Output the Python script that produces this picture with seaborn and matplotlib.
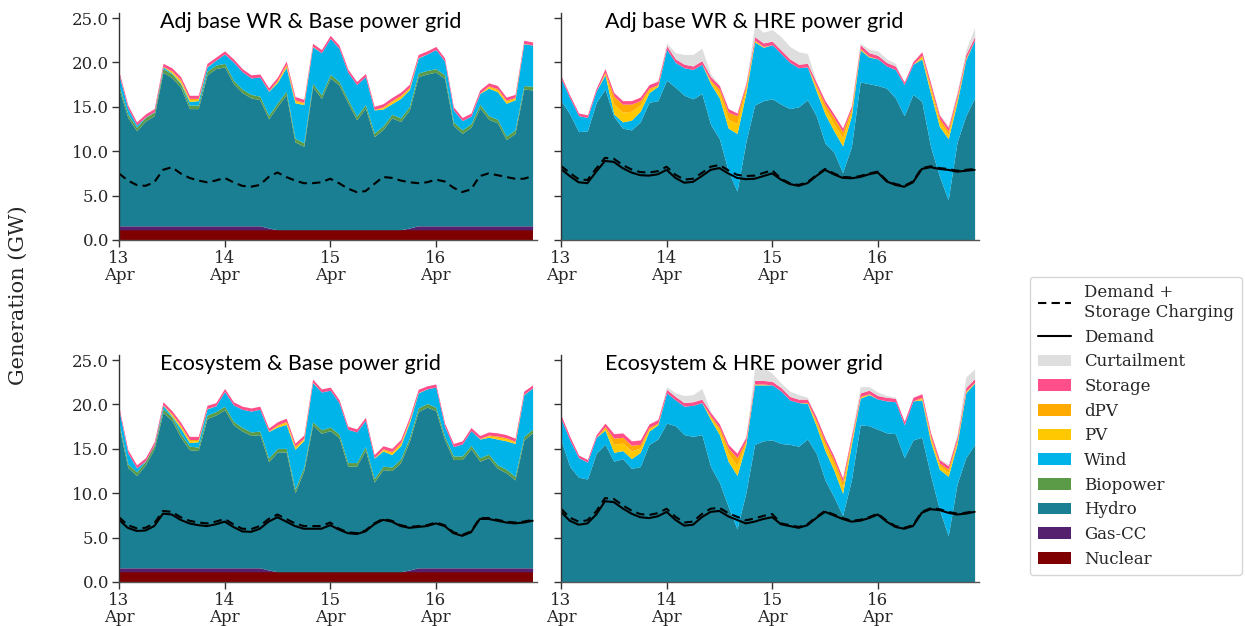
import matplotlib
matplotlib.use("Agg")
import numpy as np
import pandas as pd
import matplotlib.pyplot as plt
import matplotlib.dates as mdates
from matplotlib.lines import Line2D
from matplotlib.patches import Patch
from matplotlib.ticker import MultipleLocator, FormatStrFormatter
import seaborn as sns

# ---------------------------------------------------------------------------
# Generation dispatch (GW), 2-hourly, 13-16 April
# ---------------------------------------------------------------------------
TIMES = pd.date_range("2019-04-13 00:00", periods=48, freq="2h")

STACK_ORDER = ["Nuclear", "Gas-CC", "Hydro", "Biopower", "Wind",
               "PV", "dPV", "Storage", "Curtailment"]
COLORS = {
    "Curtailment": "#dedede",
    "Storage": "#ff4f8b",
    "dPV": "#ffaa00",
    "PV": "#ffc800",
    "Wind": "#00b4ea",
    "Biopower": "#5b9a47",
    "Hydro": "#1a7f92",
    "Gas-CC": "#55216e",
    "Nuclear": "#7f0000",
}

# Base power grid: thermal fleet and small renewables
NUCLEAR_BASE = [1.15, 1.15, 1.15, 1.15, 1.15, 1.15, 1.15, 1.15, 1.15, 1.15, 1.15, 1.15,
                1.15, 1.15, 1.15, 1.15, 1.15, 1.15, 1.15, 1.15, 1.15, 1.15, 1.15, 1.15,
                1.15, 1.15, 1.15, 1.15, 1.15, 1.15, 1.15, 1.15, 1.15, 1.15, 1.15, 1.15,
                1.15, 1.15, 1.15, 1.15, 1.15, 1.15, 1.15, 1.15, 1.15, 1.15, 1.15, 1.15]
GAS_BASE = [0.45, 0.45, 0.45, 0.45, 0.45, 0.45, 0.45, 0.45, 0.45, 0.45, 0.45, 0.45,
            0.45, 0.45, 0.45, 0.45, 0.45, 0.2, 0.0, 0.0, 0.0, 0.0, 0.0, 0.0,
            0.0, 0.0, 0.0, 0.0, 0.0, 0.0, 0.0, 0.0, 0.0, 0.2, 0.45, 0.45,
            0.45, 0.45, 0.45, 0.45, 0.45, 0.45, 0.45, 0.45, 0.45, 0.45, 0.45, 0.45]
BIOPOWER_BASE = [0.4, 0.4, 0.4, 0.4, 0.4, 0.4, 0.4, 0.4, 0.4, 0.4, 0.4, 0.4,
                 0.4, 0.4, 0.4, 0.4, 0.4, 0.4, 0.4, 0.4, 0.4, 0.4, 0.4, 0.4,
                 0.4, 0.4, 0.4, 0.4, 0.4, 0.4, 0.4, 0.4, 0.4, 0.4, 0.4, 0.4,
                 0.4, 0.4, 0.4, 0.4, 0.4, 0.4, 0.4, 0.4, 0.4, 0.4, 0.4, 0.4]
PV_BASE = [0, 0, 0, 0, 0, 0.05, 0.15, 0.2, 0.2, 0.15, 0.05, 0,
           0, 0, 0, 0, 0, 0.05, 0.15, 0.2, 0.2, 0.15, 0.05, 0,
           0, 0, 0, 0, 0, 0.05, 0.15, 0.2, 0.2, 0.15, 0.05, 0,
           0, 0, 0, 0, 0, 0.05, 0.15, 0.2, 0.2, 0.15, 0.05, 0]
DPV_BASE = [0, 0, 0, 0, 0, 0, 0.1, 0.15, 0.15, 0.1, 0, 0,
            0, 0, 0, 0, 0, 0, 0.1, 0.15, 0.15, 0.1, 0, 0,
            0, 0, 0, 0, 0, 0, 0.1, 0.15, 0.15, 0.1, 0, 0,
            0, 0, 0, 0, 0, 0, 0.1, 0.15, 0.15, 0.1, 0, 0]
STORAGE_BASE = [0.35, 0.35, 0.35, 0.35, 0.35, 0.35, 0.35, 0.35, 0.35, 0.35, 0.35, 0.35,
                0.35, 0.35, 0.35, 0.35, 0.35, 0.35, 0.35, 0.35, 0.35, 0.35, 0.35, 0.35,
                0.35, 0.35, 0.35, 0.35, 0.35, 0.35, 0.35, 0.35, 0.35, 0.35, 0.35, 0.35,
                0.35, 0.35, 0.35, 0.35, 0.35, 0.35, 0.35, 0.35, 0.35, 0.35, 0.35, 0.35]

# Adj base WR & Base power grid
ADJ_BASE_HYDRO = [15.4, 12.2, 10.7, 11.8, 12.4, 17.3, 16.7, 15.6, 13.2, 13.2, 17.0, 17.7,
                  17.9, 16.0, 15.0, 14.4, 14.2, 12.3, 13.9, 15.2, 9.9, 9.4, 16.1, 14.8,
                  17.1, 16.3, 14.3, 12.4, 13.7, 10.5, 11.3, 12.6, 12.2, 13.3, 16.8, 17.1,
                  17.3, 16.6, 11.3, 10.4, 11.1, 13.3, 12.0, 11.6, 9.7, 10.4, 15.4, 15.3]
ADJ_BASE_WIND = [1.2, 0.65, 0.25, 0.05, 0.05, 0.2, 0.1, 0.1, 0.4, 0.5, 0.5, 0.55,
                 1.05, 2.05, 1.95, 1.85, 2.15, 2.7, 2.3, 2.7, 4.0, 4.3, 4.1, 4.75,
                 4.05, 3.75, 3.05, 3.55, 3.15, 2.6, 1.9, 1.2, 2.2, 1.9, 1.7, 1.85,
                 2.15, 1.55, 1.35, 1.05, 0.85, 1.2, 3.1, 3.1, 3.7, 3.4, 4.7, 4.65]
ADJ_BASE_DEMAND_CHG = [7.5, 6.7, 6.2, 6.1, 6.5, 7.9, 8.2, 7.5, 7.0, 6.7, 6.5, 6.7,
                       7.0, 6.5, 6.1, 6.0, 6.2, 7.1, 7.6, 7.1, 6.7, 6.4, 6.4, 6.5,
                       6.9, 6.4, 5.8, 5.4, 5.5, 6.3, 7.1, 7.0, 6.7, 6.5, 6.4, 6.5,
                       6.8, 6.6, 5.9, 5.4, 5.7, 7.2, 7.5, 7.3, 7.1, 6.9, 6.9, 7.2]

# Ecosystem & Base power grid
ECO_BASE_HYDRO = [15.9, 11.3, 10.4, 11.6, 13.4, 17.5, 16.6, 14.7, 13.3, 13.2, 16.8, 17.2,
                  17.8, 16.1, 15.4, 14.9, 15.0, 12.2, 13.5, 13.5, 8.9, 11.4, 16.5, 15.6,
                  15.9, 15.1, 11.9, 11.9, 13.7, 10.1, 11.5, 11.4, 12.3, 14.5, 17.6, 18.1,
                  17.7, 14.4, 12.2, 12.2, 13.4, 12.0, 12.4, 11.2, 10.7, 9.9, 14.4, 15.2]
ECO_BASE_WIND = [1.45, 1.25, 0.45, 0.05, 0.05, 0.4, 0.1, 0.6, 0.4, 0.6, 0.7, 0.65,
                 1.65, 1.85, 2.05, 2.35, 2.45, 3.0, 2.4, 2.7, 4.5, 3.0, 4.4, 4.25,
                 4.15, 3.55, 3.75, 3.45, 2.95, 2.3, 1.7, 1.4, 1.5, 1.7, 1.7, 1.65,
                 2.25, 1.15, 1.05, 1.35, 1.65, 2.1, 1.9, 2.9, 3.2, 3.7, 4.7, 4.65]
ECO_BASE_DEMAND = [7.0, 6.1, 5.75, 5.8, 6.3, 7.7, 7.6, 7.0, 6.6, 6.4, 6.3, 6.5,
                   6.8, 6.2, 5.7, 5.65, 6.0, 6.8, 7.3, 6.8, 6.3, 6.0, 6.0, 6.0,
                   6.4, 5.9, 5.5, 5.4, 5.7, 6.5, 7.0, 6.8, 6.3, 6.1, 6.2, 6.3,
                   6.6, 6.3, 5.5, 5.2, 5.6, 7.1, 7.1, 6.9, 6.7, 6.6, 6.7, 6.9]
ECO_BASE_DEMAND_CHG = [7.3, 6.4, 6.05, 6.1, 6.6, 8.0, 7.9, 7.3, 6.9, 6.7, 6.6, 6.8,
                       7.1, 6.5, 6.0, 5.95, 6.3, 7.1, 7.6, 7.1, 6.6, 6.3, 6.3, 6.3,
                       6.7, 6.0, 5.6, 5.5, 5.8, 6.6, 7.1, 6.9, 6.4, 6.2, 6.3, 6.4,
                       6.7, 6.4, 5.6, 5.3, 5.7, 7.2, 7.2, 7.0, 6.8, 6.7, 6.8, 7.0]

# Adj base WR & HRE power grid
ADJ_HRE_HYDRO = [15.7, 14.2, 12.2, 12.3, 15.5, 17.0, 13.9, 12.6, 12.4, 13.3, 15.5, 15.7,
                 18.0, 17.2, 16.3, 15.9, 16.5, 13.0, 11.4, 7.8, 5.5, 11.0, 15.2, 15.7,
                 15.9, 15.3, 14.8, 15.0, 15.8, 14.0, 10.9, 9.9, 7.6, 10.5, 17.8, 17.6,
                 17.4, 17.1, 16.0, 14.0, 16.4, 15.6, 10.5, 7.2, 4.5, 11.0, 14.0, 16.0]
ADJ_HRE_WIND = [2.5, 1.8, 1.8, 1.5, 1.3, 1.6, 0.3, 0.7, 1.1, 1.2, 1.1, 1.6,
                3.5, 2.8, 3.1, 3.3, 3.3, 4.6, 4.6, 4.8, 6.5, 5.5, 7.1, 6.0,
                6.1, 5.7, 5.2, 4.4, 3.7, 2.8, 3.3, 2.4, 3.0, 3.5, 3.6, 3.0,
                3.0, 2.5, 3.2, 3.5, 3.4, 4.8, 6.0, 5.6, 6.9, 4.5, 6.3, 6.5]
ADJ_HRE_PV = [0, 0, 0, 0, 0, 0.15, 1.1, 1.1, 1.0, 0.7, 0.3, 0.1,
              0, 0, 0, 0, 0, 0.2, 0.55, 1.0, 1.1, 0.45, 0.1, 0.05,
              0, 0, 0, 0, 0, 0.35, 0.6, 0.8, 0.9, 0.45, 0.1, 0.05,
              0, 0, 0, 0, 0, 0.2, 0.45, 0.5, 0.5, 0.35, 0.1, 0]
ADJ_HRE_DPV = [0, 0, 0, 0, 0, 0.15, 0.9, 0.9, 0.8, 0.5, 0.2, 0.1,
               0, 0, 0, 0, 0, 0.2, 0.45, 0.8, 0.9, 0.35, 0.1, 0.05,
               0, 0, 0, 0, 0, 0.25, 0.5, 0.7, 0.7, 0.35, 0.1, 0.05,
               0, 0, 0, 0, 0, 0.2, 0.35, 0.4, 0.4, 0.25, 0.1, 0]
ADJ_HRE_STORAGE = [0.3, 0.3, 0.3, 0.3, 0.3, 0.4, 0.4, 0.4, 0.4, 0.4, 0.4, 0.4,
                   0.4, 0.4, 0.4, 0.4, 0.4, 0.4, 0.4, 0.4, 0.3, 0.3, 0.4, 0.4,
                   0.4, 0.4, 0.4, 0.4, 0.4, 0.4, 0.4, 0.4, 0.4, 0.3, 0.4, 0.4,
                   0.4, 0.4, 0.4, 0.3, 0.3, 0.4, 0.4, 0.4, 0.4, 0.4, 0.4, 0.4]
ADJ_HRE_CURTAIL = [0, 0, 0, 0, 0, 0, 0, 0, 0, 0, 0, 0.1,
                   0.3, 0.7, 1.1, 1.3, 1.4, 0.3, 0.1, 0, 0, 0, 1.3, 1.2,
                   1.3, 1.5, 1.4, 1.4, 1.1, 0.1, 0, 0, 0, 0, 0.2, 0.4,
                   0.5, 0.4, 0.3, 0, 0, 0, 0, 0.1, 0.2, 0.1, 0.5, 1.0]
ADJ_HRE_DEMAND = [8.0, 7.2, 6.5, 6.4, 7.7, 8.9, 8.8, 8.1, 7.6, 7.3, 7.25, 7.4,
                  7.9, 7.0, 6.45, 6.55, 7.2, 7.9, 8.1, 7.5, 7.0, 6.85, 6.9, 7.2,
                  7.5, 6.8, 6.3, 6.1, 6.4, 7.2, 7.9, 7.4, 7.0, 6.95, 7.1, 7.4,
                  7.6, 6.6, 6.2, 6.0, 6.5, 8.0, 8.2, 8.0, 7.9, 7.7, 7.8, 7.9]
ADJ_HRE_DEMAND_CHG = [8.35, 7.55, 6.85, 6.75, 8.05, 9.25, 9.15, 8.45, 7.95, 7.65, 7.6, 7.75,
                      8.25, 7.35, 6.8, 6.9, 7.55, 8.25, 8.45, 7.85, 7.35, 7.2, 7.25, 7.55,
                      7.85, 6.9, 6.4, 6.2, 6.5, 7.3, 8.0, 7.5, 7.1, 7.05, 7.2, 7.5,
                      7.7, 6.7, 6.3, 6.1, 6.6, 8.1, 8.3, 8.1, 8.0, 7.8, 7.9, 8.0]

# Ecosystem & HRE power grid
ECO_HRE_HYDRO = [16.0, 13.0, 11.8, 11.6, 14.5, 15.5, 13.6, 13.9, 12.8, 13.0, 15.5, 16.1,
                 17.9, 17.6, 16.6, 16.4, 16.6, 13.0, 11.2, 8.5, 6.0, 10.0, 15.5, 15.9,
                 16.0, 15.6, 15.5, 15.3, 16.1, 14.5, 11.5, 9.6, 7.5, 11.5, 17.7, 17.6,
                 17.2, 16.8, 16.7, 14.0, 16.0, 16.3, 12.0, 8.2, 5.2, 11.0, 14.0, 15.5]
ECO_HRE_WIND = [2.4, 3.0, 2.2, 1.9, 1.8, 1.6, 1.0, 0.9, 1.1, 1.6, 1.5, 1.6,
                3.4, 2.9, 3.2, 3.5, 3.6, 5.3, 5.4, 5.1, 6.0, 5.5, 6.7, 6.3,
                6.2, 5.9, 5.0, 4.9, 4.0, 3.1, 3.3, 3.0, 2.5, 4.0, 3.0, 3.5,
                3.4, 3.6, 3.6, 3.7, 4.4, 4.2, 3.8, 4.5, 6.7, 4.5, 7.3, 6.9]
ECO_HRE_PV = [0, 0, 0, 0, 0, 0.2, 0.9, 0.85, 0.85, 0.5, 0.2, 0.1,
              0, 0, 0, 0, 0, 0.2, 0.45, 0.85, 1.1, 0.2, 0.05, 0.05,
              0, 0, 0, 0, 0.05, 0.35, 0.55, 0.65, 0.7, 0.35, 0.1, 0.05,
              0, 0, 0, 0, 0, 0.15, 0.35, 0.4, 0.45, 0.3, 0.1, 0.05]
ECO_HRE_DPV = [0, 0, 0, 0, 0, 0.2, 0.7, 0.65, 0.65, 0.4, 0.2, 0.1,
               0, 0, 0, 0, 0, 0.2, 0.35, 0.65, 0.9, 0.2, 0.05, 0.05,
               0, 0, 0, 0, 0.05, 0.25, 0.45, 0.55, 0.6, 0.25, 0.1, 0.05,
               0, 0, 0, 0, 0, 0.15, 0.25, 0.3, 0.35, 0.2, 0.1, 0.05]
ECO_HRE_STORAGE = [0.4, 0.4, 0.3, 0.3, 0.3, 0.4, 0.5, 0.5, 0.5, 0.5, 0.4, 0.4,
                   0.4, 0.4, 0.4, 0.4, 0.4, 0.4, 0.4, 0.4, 0.5, 0.4, 0.4, 0.4,
                   0.4, 0.4, 0.4, 0.4, 0.4, 0.4, 0.4, 0.4, 0.4, 0.4, 0.4, 0.4,
                   0.4, 0.4, 0.4, 0.4, 0.4, 0.4, 0.4, 0.4, 0.4, 0.4, 0.4, 0.4]
ECO_HRE_CURTAIL = [0, 0, 0, 0, 0, 0, 0, 0, 0, 0, 0, 0,
                   0.3, 0.4, 0.8, 0.8, 1.2, 0.1, 0, 0, 0, 0, 1.4, 1.5,
                   0.9, 0.5, 0.6, 0.5, 0.2, 0, 0, 0, 0, 0, 0.7, 0.4,
                   0.4, 0.2, 0.1, 0, 0, 0, 0, 0.1, 0.2, 0.1, 1.2, 1.1]
ECO_HRE_DEMAND = [7.9, 6.9, 6.45, 6.6, 7.6, 9.1, 9.0, 8.3, 7.7, 7.3, 7.2, 7.4,
                  7.9, 7.0, 6.35, 6.45, 7.3, 7.9, 8.0, 7.4, 7.0, 6.6, 6.8, 7.1,
                  7.3, 6.5, 6.3, 6.1, 6.4, 7.2, 7.9, 7.5, 7.1, 6.8, 6.9, 7.2,
                  7.6, 6.8, 6.2, 6.0, 6.3, 7.8, 8.2, 8.1, 7.8, 7.6, 7.7, 7.9]
ECO_HRE_DEMAND_CHG = [8.25, 7.25, 6.8, 6.95, 7.95, 9.45, 9.35, 8.65, 8.05, 7.65, 7.55, 7.75,
                      8.25, 7.35, 6.7, 6.8, 7.65, 8.25, 8.35, 7.75, 7.35, 6.95, 7.15, 7.45,
                      7.65, 6.6, 6.4, 6.2, 6.5, 7.3, 8.0, 7.6, 7.2, 6.9, 7.0, 7.3,
                      7.7, 6.9, 6.3, 6.1, 6.4, 7.9, 8.3, 8.2, 7.9, 7.7, 7.8, 8.0]

PANELS = [
    {
        "title": "Adj base WR & Base power grid",
        "rect": [119, 240],
        "labels": True,
        "mix": {"Nuclear": NUCLEAR_BASE, "Gas-CC": GAS_BASE, "Hydro": ADJ_BASE_HYDRO,
                "Biopower": BIOPOWER_BASE, "Wind": ADJ_BASE_WIND, "PV": PV_BASE,
                "dPV": DPV_BASE, "Storage": STORAGE_BASE},
        "demand": None,
        "demand_chg": ADJ_BASE_DEMAND_CHG,
    },
    {
        "title": "Adj base WR & HRE power grid",
        "rect": [561, 240],
        "labels": False,
        "mix": {"Hydro": ADJ_HRE_HYDRO, "Wind": ADJ_HRE_WIND, "PV": ADJ_HRE_PV,
                "dPV": ADJ_HRE_DPV, "Storage": ADJ_HRE_STORAGE,
                "Curtailment": ADJ_HRE_CURTAIL},
        "demand": ADJ_HRE_DEMAND,
        "demand_chg": ADJ_HRE_DEMAND_CHG,
    },
    {
        "title": "Ecosystem & Base power grid",
        "rect": [119, 582],
        "labels": True,
        "mix": {"Nuclear": NUCLEAR_BASE, "Gas-CC": GAS_BASE, "Hydro": ECO_BASE_HYDRO,
                "Biopower": BIOPOWER_BASE, "Wind": ECO_BASE_WIND, "PV": PV_BASE,
                "dPV": DPV_BASE, "Storage": STORAGE_BASE},
        "demand": ECO_BASE_DEMAND,
        "demand_chg": ECO_BASE_DEMAND_CHG,
    },
    {
        "title": "Ecosystem & HRE power grid",
        "rect": [561, 582],
        "labels": False,
        "mix": {"Hydro": ECO_HRE_HYDRO, "Wind": ECO_HRE_WIND, "PV": ECO_HRE_PV,
                "dPV": ECO_HRE_DPV, "Storage": ECO_HRE_STORAGE,
                "Curtailment": ECO_HRE_CURTAIL},
        "demand": ECO_HRE_DEMAND,
        "demand_chg": ECO_HRE_DEMAND_CHG,
    },
]

# ---------------------------------------------------------------------------
sns.set_theme(style="ticks")
plt.rcParams["font.family"] = ["DejaVu Serif"]
plt.rcParams["axes.linewidth"] = 1.0

W_PX, H_PX = 1245, 626
fig = plt.figure(figsize=(W_PX / 100, H_PX / 100), dpi=100)

AX_W, AX_H = 418, 227.3
Y_MAX = 25.6
x_end = TIMES[0] + pd.Timedelta(hours=95)

for panel in PANELS:
    left, bottom_px = panel["rect"]
    ax = fig.add_axes([left / W_PX, 1 - bottom_px / H_PX, AX_W / W_PX, AX_H / H_PX])

    names = [n for n in STACK_ORDER if n in panel["mix"]]
    ax.stackplot(TIMES, *[np.asarray(panel["mix"][n]) for n in names],
                 colors=[COLORS[n] for n in names], linewidth=0, antialiased=True)

    sns.lineplot(x=TIMES, y=panel["demand_chg"], ax=ax, color="black",
                 linewidth=1.5, linestyle=(0, (4, 2.5)))
    if panel["demand"] is not None:
        sns.lineplot(x=TIMES, y=panel["demand"], ax=ax, color="black", linewidth=1.5)

    ax.set_xlim(TIMES[0], x_end)
    ax.set_ylim(0, Y_MAX)
    ax.yaxis.set_major_locator(MultipleLocator(5))
    ax.yaxis.set_major_formatter(FormatStrFormatter("%.1f"))
    ax.xaxis.set_major_locator(mdates.DayLocator())
    ax.xaxis.set_major_formatter(mdates.DateFormatter("%d\n%b"))
    ax.tick_params(axis="both", direction="out", length=5, width=1,
                   labelsize=12, color="#333333", pad=2)
    if not panel["labels"]:
        ax.tick_params(axis="y", labelleft=False)
    ax.set_xlabel("")
    ax.set_ylabel("")
    for lab in ax.get_xticklabels():
        lab.set_linespacing(1.0)
    ax.spines["left"].set_color("#333333")
    ax.spines["bottom"].set_color("#555555")
    sns.despine(ax=ax)

    title_x = (160 if panel["labels"] else 605) / W_PX
    title_y = 1 - (bottom_px - 218) / H_PX
    fig.text(title_x, title_y, panel["title"], ha="left", va="center",
             fontsize=15.5, family=["Lato", "DejaVu Sans"], color="black")

fig.text(18 / W_PX, 1 - 295 / H_PX, "Generation (GW)", rotation=90,
         ha="center", va="center", fontsize=15)

handles = [
    Line2D([], [], color="black", linestyle=(0, (4, 2.5)), linewidth=1.5,
           label="Demand +\nStorage Charging"),
    Line2D([], [], color="black", linewidth=1.5, label="Demand"),
]
for name in ["Curtailment", "Storage", "dPV", "PV", "Wind", "Biopower",
             "Hydro", "Gas-CC", "Nuclear"]:
    handles.append(Patch(facecolor=COLORS[name], edgecolor="none", label=name))

leg = fig.legend(handles=handles, loc="upper left",
                 bbox_to_anchor=(1030 / W_PX, 1 - 277 / H_PX),
                 borderaxespad=0.0, frameon=True, fontsize=12, handlelength=2.0,
                 labelspacing=0.46, borderpad=0.45, handletextpad=0.8)
leg.get_frame().set_edgecolor("#cccccc")
leg.get_frame().set_linewidth(1.0)

fig.savefig("out.png", dpi=100)
